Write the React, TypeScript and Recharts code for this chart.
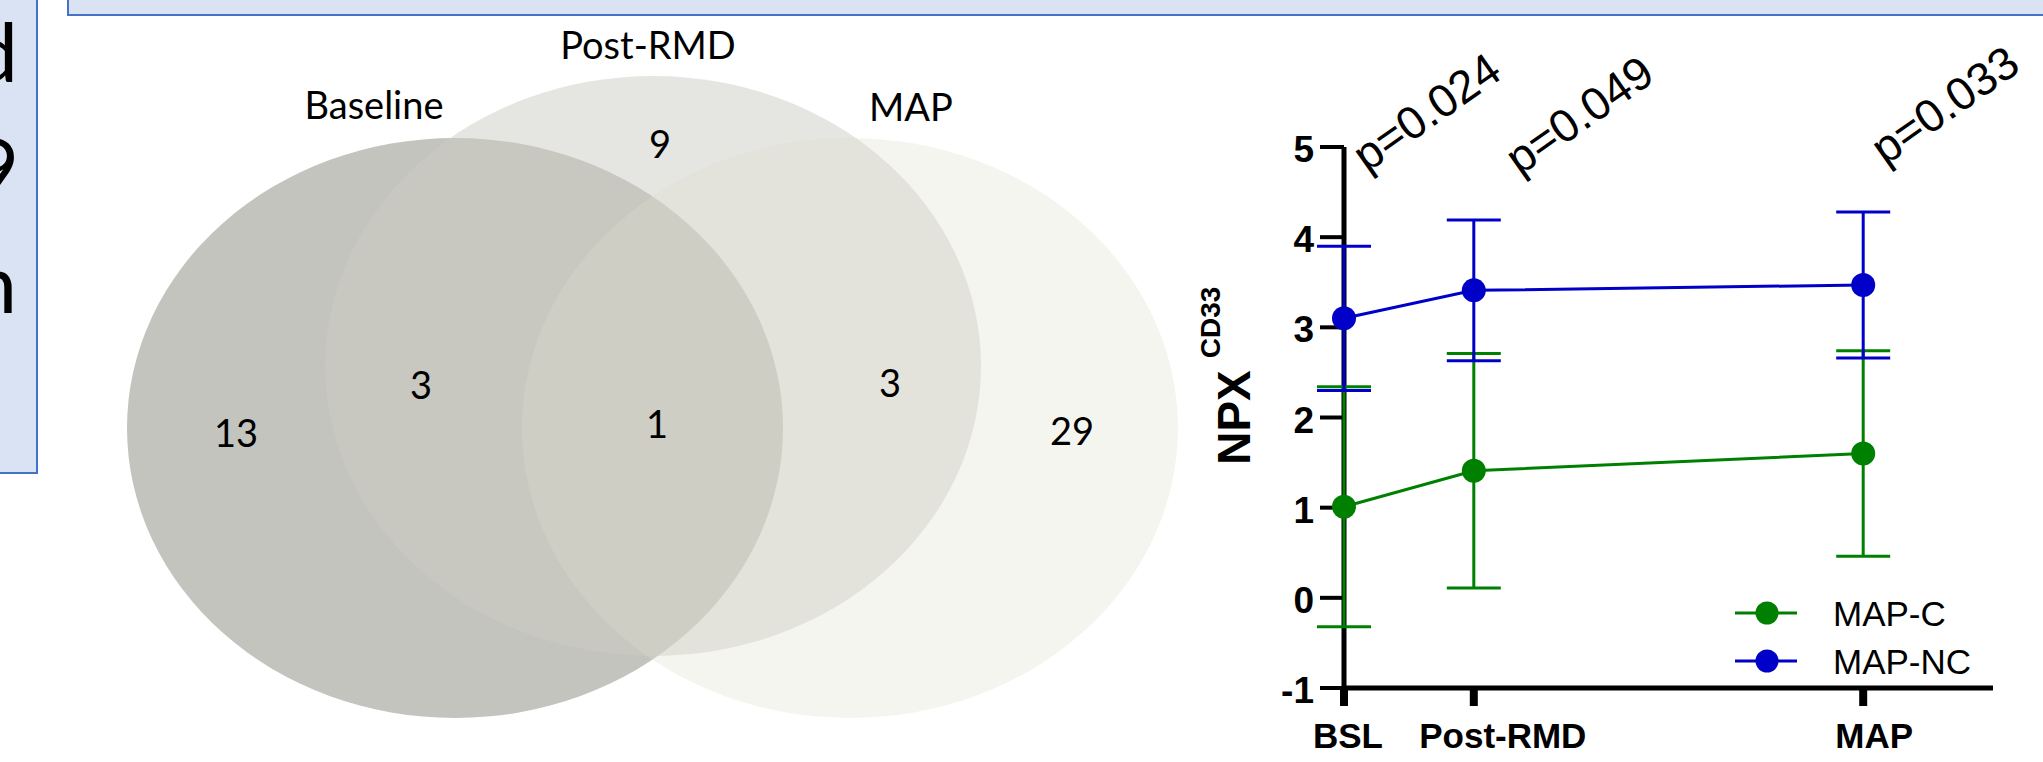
import React from 'react';
import {
  ComposedChart, Line, XAxis, YAxis, ErrorBar, Legend, ReferenceDot, Label,
  ScatterChart, Scatter,
} from 'recharts';

// ---------- data: line chart ----------
const timeLabels = ['BSL', 'Post-RMD', 'MAP'];
const timePoints = [0, 1, 4];
const mapCMean = [1.01, 1.41, 1.6];
const mapCSD = [1.33, 1.3, 1.14];
const mapNCMean = [3.1, 3.41, 3.47];
const mapNCSD = [0.8, 0.78, 0.81];
const pValues = ['p=0.024', 'p=0.049', 'p=0.033'];
const yTicks = [-1, 0, 1, 2, 3, 4, 5];

// ---------- data: Venn ----------
const vennSets = ['Baseline', 'Post-RMD', 'MAP'];
const vennRegionNames = ['Baseline', 'Baseline∩Post-RMD', 'Post-RMD', 'All', 'Post-RMD∩MAP', 'MAP'];
const vennRegionCounts = [13, 3, 9, 1, 3, 29];

// ---------- layout / style (not data) ----------
const VENN_W = 1230;
const VENN_ELLIPSES = [
  { x: 455, y: 428, rx: 328, ry: 290, fill: 'rgb(196,196,191)', opacity: 1 },
  { x: 653, y: 366, rx: 328, ry: 290, fill: 'rgb(204,204,196)', opacity: 0.5 },
  { x: 850, y: 428, rx: 328, ry: 290, fill: 'rgb(222,222,205)', opacity: 0.3 },
];
const VENN_SET_LABEL_POS = [[374, 119], [648, 59], [911, 121]];
const VENN_COUNT_POS = [[236, 447], [421, 399], [660, 158], [657, 438], [890, 397], [1072, 445]];
const X_TICK_NUDGE = [4, 29, 11];
const P_LABEL_OFFSET = [[23, 26], [46, 29], [22, 19]];

const CHART_W = 893;
const CHART_H = 762;
const PLOT = { top: 147, right: 50, bottom: 74, left: 194 };
const X_AXIS_H = 60;
const Y_AXIS_W = 60;

const GREEN = '#008000';
const BLUE = '#0000c8';
const SANS = '"Liberation Sans", Arial, sans-serif';
const VENN_FONT = 'Lato, "Open Sans", sans-serif';

const lineData = timePoints.map((t, i) => ({
  t,
  label: timeLabels[i],
  mapC: mapCMean[i],
  mapCErr: mapCSD[i],
  mapNC: mapNCMean[i],
  mapNCErr: mapNCSD[i],
}));

const series = [
  { key: 'mapC', err: 'mapCErr', name: 'MAP-C', color: GREEN },
  { key: 'mapNC', err: 'mapNCErr', name: 'MAP-NC', color: BLUE },
];

const ellipseData = vennSets.map((name, i) => ({ name, ...VENN_ELLIPSES[i] }));
const setLabelData = vennSets.map((name, i) => ({ text: name, x: VENN_SET_LABEL_POS[i][0], y: VENN_SET_LABEL_POS[i][1] }));
const countData = vennRegionCounts.map((c, i) => ({
  region: vennRegionNames[i], text: String(c), x: VENN_COUNT_POS[i][0], y: VENN_COUNT_POS[i][1],
}));

const EllipseShape = (props: any) => {
  const p = props.payload;
  return <ellipse cx={props.cx} cy={props.cy} rx={p.rx} ry={p.ry} fill={p.fill} fillOpacity={p.opacity} stroke="none" />;
};

const TextShape = (props: any) => (
  <text x={props.cx} y={props.cy} textAnchor="middle" fontFamily={VENN_FONT} fontSize={38} fill="#000">
    {props.payload.text}
  </text>
);

const XTick = (props: any) => {
  const { x, y, payload, index } = props;
  return (
    <text x={x + (X_TICK_NUDGE[index] || 0)} y={y + 42} textAnchor="middle" fontFamily={SANS}
      fontWeight="bold" fontSize={35} fill="#000">
      {timeLabels[timePoints.indexOf(payload.value)]}
    </text>
  );
};

const YTick = (props: any) => {
  const { x, y, payload } = props;
  return (
    <text x={x} y={y + 15} textAnchor="end" fontFamily={SANS} fontWeight="bold" fontSize={37} fill="#000">
      {payload.value}
    </text>
  );
};

const YLabel = (props: any) => {
  const vb = props.viewBox || { x: 134, y: 147, width: 60, height: 541 };
  const cy = vb.y + vb.height / 2;
  const bx = vb.x - 34;
  return (
    <g>
      <text transform={`translate(${bx},${cy}) rotate(-90)`} textAnchor="middle" fontFamily={SANS}
        fontWeight="bold" fontSize={46} fill="#000">NPX</text>
      <text transform={`translate(${bx - 30},${cy - 95}) rotate(-90)`} textAnchor="middle" fontFamily={SANS}
        fontWeight="bold" fontSize={28} fill="#000">CD33</text>
    </g>
  );
};

const LegendContent = () => (
  <svg width={270} height={100}>
    {series.map((s, i) => {
      const y = 24 + 48 * i;
      return (
        <g key={s.key}>
          <line x1={0} x2={62} y1={y} y2={y} stroke={s.color} strokeWidth={3} />
          <circle cx={32} cy={y} r={11.5} fill={s.color} />
          <text x={98} y={y + 13} fontFamily={SANS} fontSize={35} fill="#000">{s.name}</text>
        </g>
      );
    })}
  </svg>
);

const PLabel = (i: number) => (props: any) => (
  <text
    transform={`translate(${props.cx + P_LABEL_OFFSET[i][0]},${props.cy + P_LABEL_OFFSET[i][1]}) rotate(-35)`}
    fontFamily={SANS} fontSize={46} fill="#000">
    {pValues[i]}
  </text>
);

export default function App() {
  return (
    <div style={{ position: 'absolute', left: 0, top: 0, width: 2043, height: 762, background: '#fff', overflow: 'hidden' }}>
      <svg width={2043} height={762} style={{ position: 'absolute', left: 0, top: 0 }}>
        <defs>
          <clipPath id="leftbox"><rect x={-10} y={-10} width={46} height={482} /></clipPath>
        </defs>
        <rect x={68} y={-10} width={2000} height={25} fill="#dae3f3" stroke="#4472c4" strokeWidth={2} />
        <rect x={-10} y={-10} width={47} height={483} fill="#dae3f3" stroke="#4472c4" strokeWidth={2} />
        <g clipPath="url(#leftbox)" fontFamily={VENN_FONT} fontSize={82} fill="#000">
          <text x={18} y={82} textAnchor="end">d</text>
          <text x={19} y={197} textAnchor="end">9</text>
          <text x={17} y={313} textAnchor="end">n</text>
        </g>
      </svg>

      <div style={{ position: 'absolute', left: 0, top: 0 }}>
        <ScatterChart width={VENN_W} height={762} margin={{ top: 0, right: 0, bottom: 0, left: 0 }}>
          <XAxis type="number" dataKey="x" domain={[0, VENN_W]} hide />
          <YAxis type="number" dataKey="y" domain={[0, 762]} reversed hide />
          <Scatter data={ellipseData} shape={EllipseShape} isAnimationActive={false} />
          <Scatter data={setLabelData} shape={TextShape} isAnimationActive={false} />
          <Scatter data={countData} shape={TextShape} isAnimationActive={false} />
        </ScatterChart>
      </div>

      {/* axes, p-values and legend */}
      <div style={{ position: 'absolute', left: 1150, top: 0 }}>
        <ComposedChart width={CHART_W} height={CHART_H} data={lineData}
          margin={{ top: PLOT.top, right: PLOT.right, bottom: PLOT.bottom - X_AXIS_H, left: PLOT.left - Y_AXIS_W }}>
          <XAxis dataKey="t" type="number" domain={[0, 5]} ticks={timePoints} height={X_AXIS_H}
            axisLine={{ stroke: '#000', strokeWidth: 5 }} tickLine={{ stroke: '#000', strokeWidth: 8 }}
            tickSize={18} tickMargin={0} tick={<XTick />} interval={0} />
          <YAxis type="number" domain={[-1, 5]} ticks={yTicks} width={Y_AXIS_W} interval={0}
            axisLine={{ stroke: '#000', strokeWidth: 5 }} tickLine={{ stroke: '#000', strokeWidth: 4 }}
            tickSize={24} tickMargin={6} tick={<YTick />}>
            <Label content={<YLabel />} position="left" />
          </YAxis>
          {series.map((s) => (
            <Line key={s.key} dataKey={s.key} name={s.name} type="linear" stroke="transparent" strokeWidth={0}
              dot={false} activeDot={false} isAnimationActive={false} />
          ))}
          {timePoints.map((t, i) => (
            <ReferenceDot key={t} x={t} y={5} r={1} ifOverflow="visible" shape={PLabel(i)} />
          ))}
          <Legend layout="horizontal" verticalAlign="middle" align="center" content={<LegendContent />}
            wrapperStyle={{ left: 585, top: 589, width: 270, height: 100 }} />
        </ComposedChart>
      </div>

      {/* series drawn above the axes, same plot area */}
      <div style={{ position: 'absolute', left: 1150, top: 0 }}>
        <ComposedChart width={CHART_W} height={CHART_H} data={lineData}
          margin={{ top: PLOT.top, right: PLOT.right, bottom: PLOT.bottom, left: PLOT.left }}>
          <XAxis dataKey="t" type="number" domain={[0, 5]} hide />
          <YAxis type="number" domain={[-1, 5]} hide />
          {series.map((s) => (
            <Line key={s.key} dataKey={s.key} name={s.name} type="linear" stroke={s.color} strokeWidth={3}
              dot={{ r: 12, fill: s.color, stroke: s.color, strokeWidth: 0 }} activeDot={false}
              isAnimationActive={false}>
              <ErrorBar dataKey={s.err} direction="y" width={27} strokeWidth={3} stroke={s.color} />
            </Line>
          ))}
        </ComposedChart>
      </div>
    </div>
  );
}
